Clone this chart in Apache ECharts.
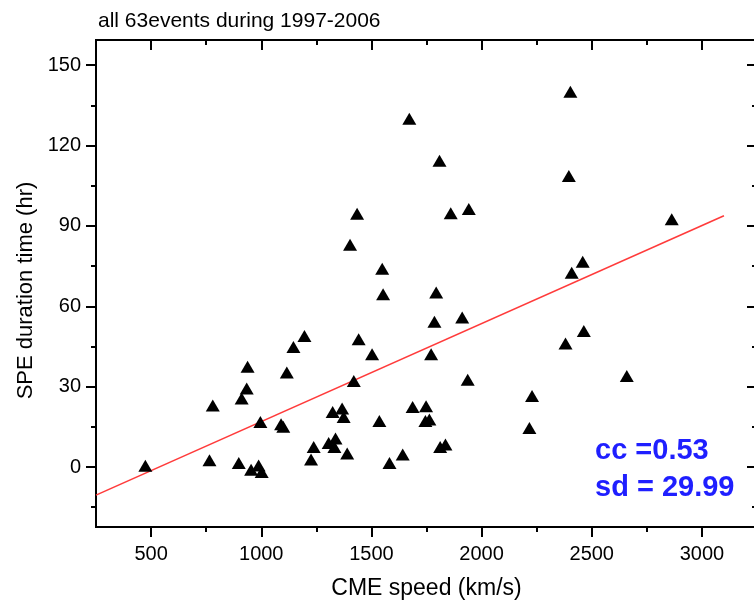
<!DOCTYPE html>
<html>
<head>
<meta charset="utf-8">
<title>SPE duration vs CME speed</title>
<script src="https://cdn.jsdelivr.net/npm/echarts@6/dist/echarts.min.js"></script>
<style>
    html, body { margin: 0; padding: 0; background: #fff; overflow: hidden; }
    #scatter { width: 762px; height: 606px; }
</style>
</head>
<body>
<div id="scatter"></div>
<script>
    // CME speed (km/s) and SPE duration (hr)
    var speed = [474, 765, 780, 898, 911, 934, 938, 954, 988, 996,
        1002, 1090, 1100, 1116, 1146, 1196, 1226, 1238, 1306, 1324,
        1332, 1337, 1367, 1374, 1390, 1403, 1420, 1435, 1442, 1503,
        1536, 1549, 1553, 1582, 1642, 1672, 1687, 1745, 1748, 1763,
        1771, 1786, 1794, 1809, 1812, 1836, 1860, 1912, 1937, 1942,
        2217, 2229, 2381, 2396, 2403, 2409, 2459, 2464, 2659, 2863];
    var duration = [0.5, 2.5, 23, 1.5, 25.6, 29.3, 37.4, -1, 0.6, 16.8,
        -1.9, 16, 15, 35.3, 44.8, 48.9, 2.8, 7.5, 9, 20.5,
        7.5, 10.6, 21.8, 18.7, 5, 83, 32.1, 94.5, 47.7, 42.1,
        17.2, 74, 64.5, 1.5, 4.7, 130, 22.4, 17.2, 22.7, 17.7,
        42.1, 54.2, 65.1, 114.3, 7.5, 8.4, 94.7, 55.8, 32.6, 96.3,
        14.6, 26.5, 46.1, 108.6, 140.1, 72.5, 76.6, 50.8, 34, 92.5];

    // linear fit drawn on the figure
    var fitX = [250, 3100];
    var fitY = [-10.5, 93.8];

    var xMajor = [500, 1000, 1500, 2000, 2500, 3000];
    var xMinor = [750, 1250, 1750, 2250, 2750];
    var yMajor = [0, 30, 60, 90, 120, 150];
    var yMinor = [-15, 15, 45, 75, 105, 135];

    var myChart = echarts.init(document.getElementById('scatter'));
    var font = '"Liberation Sans", Arial, sans-serif';

    var points = [];
    for (var i = 0; i < speed.length; i++) points.push([speed[i], duration[i]]);
    var fit = [];
    for (var j = 0; j < fitX.length; j++) fit.push([fitX[j], fitY[j]]);

    function axis(pos, range, ticks, len, inside, labels, extra) {
        var a = {
            type: 'value',
            position: pos,
            min: range[0],
            max: range[1],
            splitLine: { show: false },
            axisLine: { show: true, onZero: false, lineStyle: { color: '#000', width: 2 } },
            axisTick: { show: true, inside: inside, length: len, customValues: ticks, lineStyle: { color: '#000', width: 2 } },
            axisLabel: labels ? {
                show: true, customValues: ticks, color: '#000', fontSize: 20, fontFamily: font,
                margin: labels, formatter: function (v) { return String(v); }
            } : { show: false }
        };
        for (var k in extra) a[k] = extra[k];
        return a;
    }

    var xr = [250, 3250];
    var yr = [-22.4, 159.4];

    option = {
        animation: false,
        title: {
            text: 'all 63events during 1997-2006',
            left: 93,
            top: 6,
            textStyle: { fontSize: 21, fontWeight: 'normal', color: '#000', fontFamily: font }
        },
        grid: { left: 96, right: 5, top: 40, bottom: 79 },
        xAxis: [
            axis('bottom', xr, xMajor, 10, false, 17, {
                name: 'CME speed (km/s)', nameLocation: 'middle', nameGap: 50,
                nameTextStyle: { fontSize: 23, color: '#000', fontFamily: font }
            }),
            axis('bottom', xr, xMinor, 5, false, 0, {}),
            axis('top', xr, xMajor, 10, true, 0, {}),
            axis('top', xr, xMinor, 5, true, 0, {})
        ],
        yAxis: [
            axis('left', yr, yMajor, 10, false, 15, {
                name: 'SPE duration time (hr)', nameLocation: 'middle', nameGap: 53,
                nameTextStyle: { fontSize: 22, color: '#000', fontFamily: font, padding: [0, 0, 0, -14] }
            }),
            axis('left', yr, yMinor, 5, false, 0, {}),
            axis('right', yr, yMajor, 10, true, 0, {}),
            axis('right', yr, yMinor, 5, true, 0, {})
        ],
        graphic: [
            { type: 'text', left: 595, top: 436, style: { text: 'cc =0.53', fill: '#1f1fff', font: 'bold 29px ' + font } },
            { type: 'text', left: 595, top: 473, style: { text: 'sd = 29.99', fill: '#1f1fff', font: 'bold 29px ' + font } }
        ],
        series: [
            {
                name: 'fit',
                type: 'line',
                data: fit,
                symbol: 'none',
                lineStyle: { color: '#ff3b3b', width: 1.6 },
                z: 1
            },
            {
                name: 'events',
                type: 'scatter',
                data: points,
                symbol: 'triangle',
                symbolSize: [14, 12],
                itemStyle: { color: '#000', opacity: 1 },
                z: 2
            }
        ]
    };

    myChart.setOption(option);
</script>
</body>
</html>
